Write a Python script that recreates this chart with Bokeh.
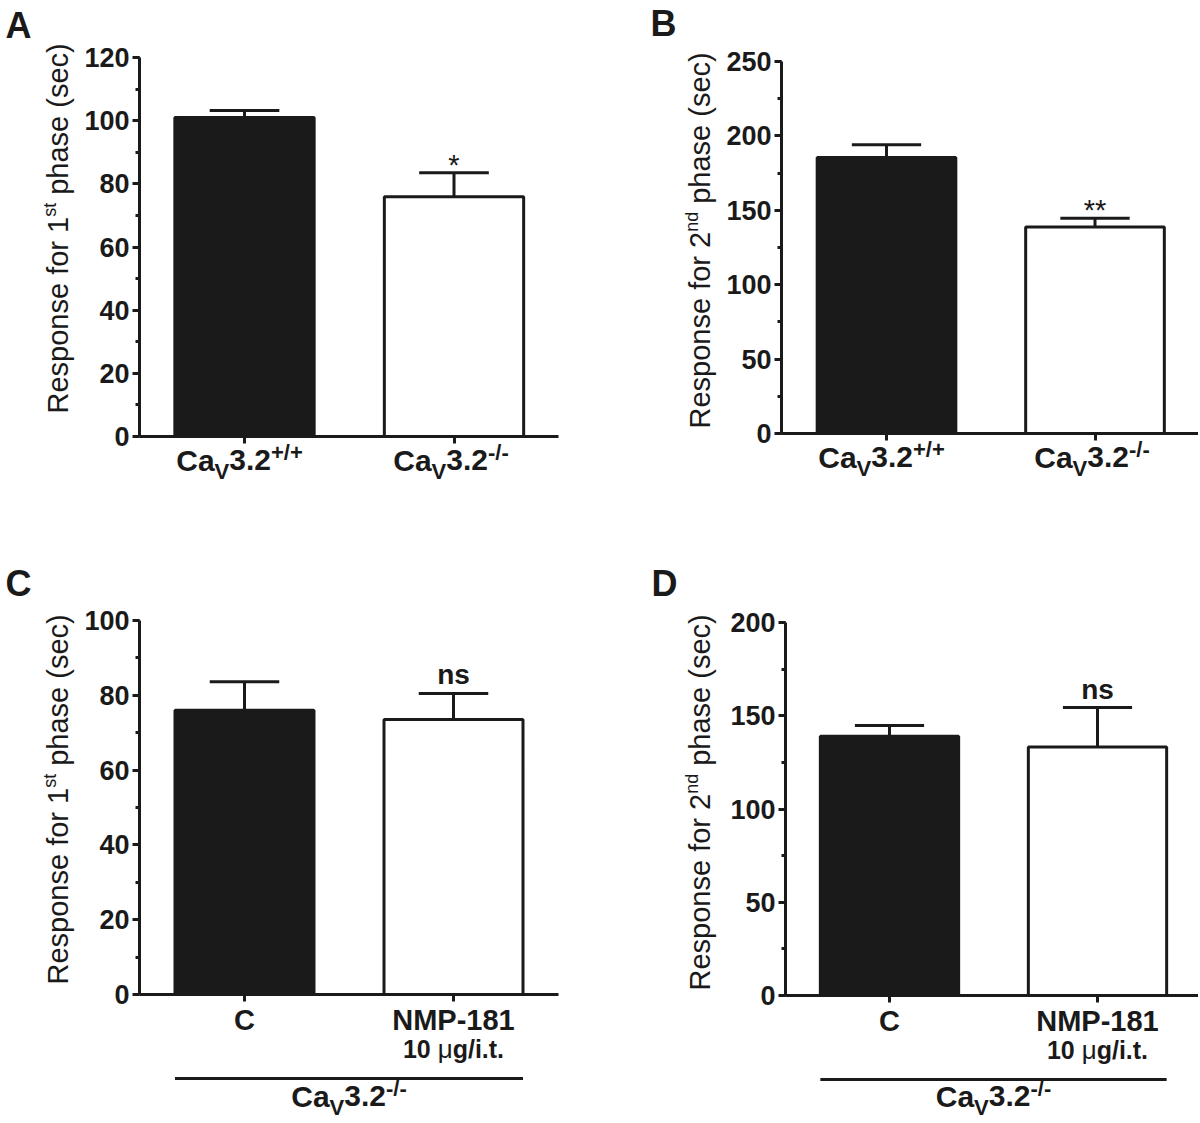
import math
from bokeh.plotting import figure
from bokeh.models import Range1d, FixedTicker, SingleIntervalTicker, Label, ColumnDataSource
from bokeh.models import LinearAxis
from bokeh.layouts import gridplot
from bokeh.embed import file_html
from bokeh.resources import INLINE

# ---------------- data ----------------
groups_top = ["Cav3.2+/+", "Cav3.2-/-"]
groups_bottom = ["C", "NMP-181"]

a_mean = [101.0, 75.9]
a_sem = [2.2, 7.6]
a_sig = ["", "*"]

b_mean = [185.5, 138.8]
b_sem = [8.5, 5.9]
b_sig = ["", "**"]

c_mean = [76.0, 73.5]
c_sem = [7.6, 7.0]
c_sig = ["", "ns"]

d_mean = [139.0, 133.2]
d_sem = [5.8, 21.2]
d_sig = ["", "ns"]

y_ticks_a = [0, 20, 40, 60, 80, 100, 120]
y_ticks_b = [0, 50, 100, 150, 200, 250]
y_ticks_c = [0, 20, 40, 60, 80, 100]
y_ticks_d = [0, 50, 100, 150, 200]

# ---------------- style ----------------
INK = "#1a1a1a"
FONT = "Liberation Sans"
BAR_W = 0.665
FILLS = [INK, "white"]
BASE_FIX = 0.34   # empirical baseline correction (em)

W_REG = {' ': 278, '(': 333, ')': 333, '1': 556, '2': 556, 'R': 722, 'e': 556, 's': 500,
         'p': 556, 'o': 556, 'n': 556, 'f': 278, 'r': 333, 'h': 556, 'a': 556, 'c': 500,
         't': 278, 'd': 556, '*': 389, 'μ': 576}
W_BOLD = {' ': 278, 'C': 722, 'a': 556, 'V': 667, '3': 556, '.': 278, '2': 556, '+': 584,
          '/': 278, '-': 333, 'N': 722, 'M': 833, 'P': 667, '1': 556, '8': 556, '0': 556,
          'g': 611, 'i': 278, 't': 333, 'μ': 611, 'n': 611, 's': 556, 'A': 722, 'B': 722,
          'D': 722}


def text_w(s, size, bold):
    tbl = W_BOLD if bold else W_REG
    return sum(tbl.get(ch, 556) for ch in s) * size / 1000.0


def rich(p, x, y, pieces, dx=0.0, dy=0.0, align="center", angle=0.0):
    total = sum(text_w(t, s, b) for t, s, b, r in pieces)
    cum = {"left": 0.0, "center": -total / 2.0, "right": -total}[align]
    for t, s, b, r in pieces:
        lead = len(t) - len(t.lstrip(" "))
        core = t.strip(" ")
        off = cum + text_w(" " * lead, s, b)
        fix = BASE_FIX * s
        if angle == 0:
            xo, yo = dx + off, dy + r + fix
        else:
            xo, yo = dx - r - fix, dy + off
        if core:
            p.add_layout(Label(x=x, y=y, x_offset=xo, y_offset=yo, text=core, angle=angle,
                               text_align="left", text_baseline="alphabetic",
                               text_font=FONT, text_font_size=f"{s}px",
                               text_font_style="bold" if b else "normal",
                               text_color=INK))
        cum += text_w(t, s, b)


def cav_label(sup):
    return [("Ca", 30, True, 0), ("V", 22, True, -8), ("3.2", 30, True, 0), (sup, 22, True, 11)]


def panel(letter, ox, oy, fig_w, fig_h, FL, C1, S, FT, FB, ticks, means, sems, sigs, ordinal,
          lab_dx, lab_start, letter_pos, bottom):
    ymax = ticks[-1]
    step = ticks[1] - ticks[0]
    ppu = (FB - FT) / ymax
    # data ranges so that the whole figure is the frame
    x0 = 1 + (ox - C1) / S
    x1 = 1 + (ox + fig_w - C1) / S
    y0 = (FB - (oy + fig_h)) / ppu
    y1 = (FB - oy) / ppu
    xa = 1 - (C1 - FL) / S                       # y-axis position (data)
    xb = min(2.5, x1 - 0.5 / S)                  # end of x axis
    p = figure(width=fig_w, height=fig_h, x_range=Range1d(x0, x1), y_range=Range1d(y0, y1),
               output_backend="svg", toolbar_location=None, tools="",
               x_axis_location=None, y_axis_location=None,
               min_border=0, min_border_left=0, min_border_right=0,
               min_border_top=0, min_border_bottom=0)
    p.outline_line_color = None
    p.grid.visible = False
    p.background_fill_color = "white"
    p.border_fill_color = "white"

    # y axis
    yax = LinearAxis(fixed_location=xa, bounds=(0, ymax),
                     ticker=SingleIntervalTicker(interval=step, num_minor_ticks=2))
    yax.axis_line_width = 3
    yax.axis_line_color = INK
    yax.major_tick_line_width = 3
    yax.minor_tick_line_width = 3
    yax.major_tick_line_color = INK
    yax.minor_tick_line_color = INK
    yax.major_tick_out = 7
    yax.major_tick_in = 0
    yax.minor_tick_out = 4
    yax.minor_tick_in = 0
    yax.major_label_text_font = FONT
    yax.major_label_text_font_size = "27px"
    yax.major_label_text_font_style = "bold"
    yax.major_label_text_color = INK
    yax.major_label_standoff = 3
    p.add_layout(yax, "left")

    # x axis
    xs_pos = [i + 1 for i in range(len(means))]
    xax = LinearAxis(fixed_location=0, bounds=(xa, xb), ticker=FixedTicker(ticks=xs_pos))
    xax.major_label_overrides = {v: "" for v in xs_pos}
    xax.axis_line_width = 3
    xax.axis_line_color = INK
    xax.major_tick_line_width = 3
    xax.major_tick_line_color = INK
    xax.major_tick_out = 7
    xax.major_tick_in = 0
    xax.minor_tick_line_color = None
    p.add_layout(xax, "below")

    tops = [m + s for m, s in zip(means, sems)]
    src = ColumnDataSource(dict(x=xs_pos, top=means, err=tops, fill=FILLS[:len(means)],
                                cl=[x - BAR_W / 4 for x in xs_pos],
                                cr=[x + BAR_W / 4 for x in xs_pos]))
    p.segment(x0="x", y0="top", x1="x", y1="err", line_color=INK, line_width=3, source=src)
    p.segment(x0="cl", y0="err", x1="cr", y1="err", line_color=INK, line_width=3, source=src)
    p.vbar(x="x", top="top", bottom=0, width=BAR_W, fill_color="fill", line_color=INK,
           line_width=3, source=src)

    # significance marks
    for x, t, s in zip(xs_pos, tops, sigs):
        if not s:
            continue
        if s == "ns":
            rich(p, x, t, [(s, 28, True, 0)], dy=9)
        else:
            rich(p, x, t, [(s, 29, False, 0)], dy=-2)

    # y-axis title (rotated, composed for the superscript)
    rich(p, xa, 0, [("Response for " + ordinal[0], 29, False, 0), (ordinal[1], 18, False, 11),
                    (" phase (sec)", 29, False, 0)],
         dx=lab_dx, dy=lab_start, align="left", angle=math.pi / 2)

    # panel letter
    rich(p, xa, ymax, [(letter, 36, True, 0)], dx=letter_pos[0] - FL, dy=FT - letter_pos[1],
         align="left")

    if bottom is None:
        rich(p, 1, 0, cav_label("+/+"), dx=-5, dy=-34)
        rich(p, 2, 0, cav_label("-/-"), dx=-3, dy=-34)
    else:
        rich(p, 1, 0, [(bottom[0], 29, True, 0)], dy=-35)
        rich(p, 2, 0, [(bottom[1], 29, True, 0)], dy=-35)
        rich(p, 2, 0, [("10 ", 25, True, 0), ("μ", 26, False, 0), ("g/i.t.", 25, True, 0)], dy=-63)
        yl = -84.0 / ppu
        p.segment(x0=[1 - BAR_W / 2], y0=[yl], x1=[2 + BAR_W / 2], y1=[yl],
                  line_color=INK, line_width=3)
        rich(p, 1.5, 0, cav_label("-/-"), dy=-(1106 - FB))
    return p


pA = panel("A", 0, 0, 600, 561, 139, 244, 209.5, 57, 436, y_ticks_a, a_mean, a_sem, a_sig,
           ("1", "st"), -72, 23, (5, 37), None)
pB = panel("B", 600, 0, 598, 561, 781, 886, 208.5, 61, 433, y_ticks_b, b_mean, b_sem, b_sig,
           ("2", "nd"), -72, 5, (650, 35), None)
pC = panel("C", 0, 561, 600, 560, 139, 244, 209, 620, 994, y_ticks_c, c_mean, c_sem, c_sig,
           ("1", "st"), -72, 10, (5, 595), groups_bottom)
pD = panel("D", 600, 561, 598, 560, 785, 889, 208, 622, 995, y_ticks_d, d_mean, d_sem, d_sig,
           ("2", "nd"), -76, 5, (651, 595), groups_bottom)

grid = gridplot([[pA, pB], [pC, pD]], toolbar_location=None)

open("out.html", "w").write(file_html(grid, INLINE))
